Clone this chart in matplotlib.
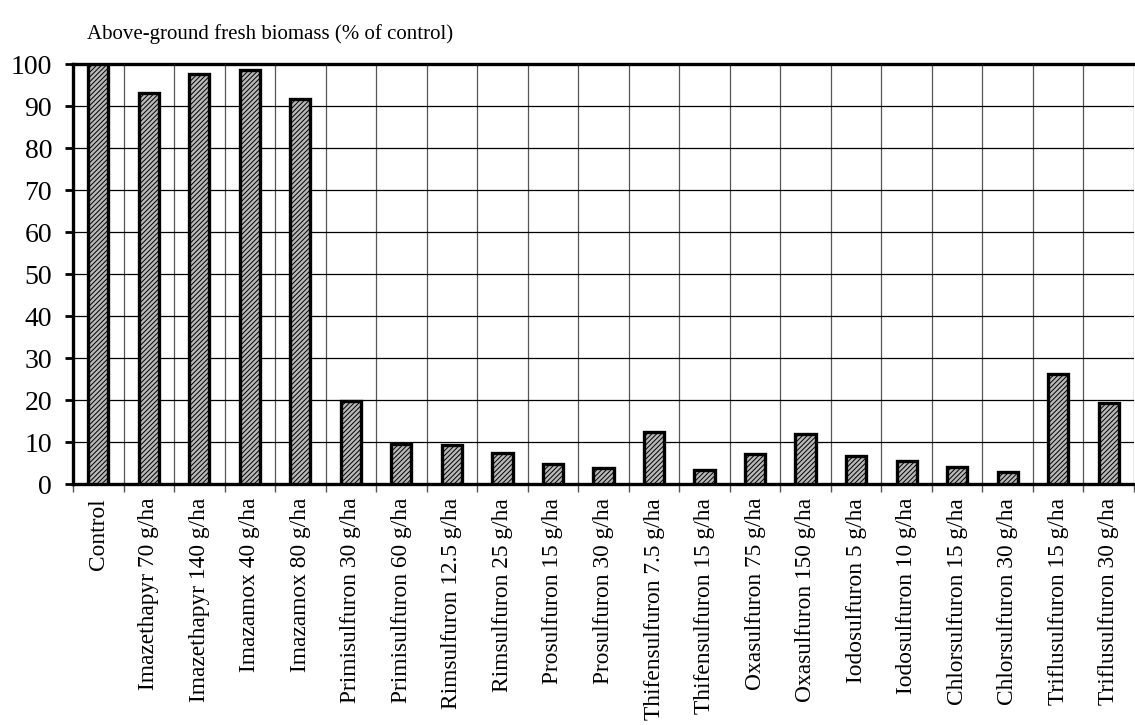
import matplotlib
matplotlib.use("Agg")
import matplotlib.pyplot as plt
import numpy as np

categories = [
    "Control", "Imazethapyr 70 g/ha", "Imazethapyr 140 g/ha", "Imazamox 40 g/ha",
    "Imazamox 80 g/ha", "Primisulfuron 30 g/ha", "Primisulfuron 60 g/ha",
    "Rimsulfuron 12.5 g/ha", "Rimsulfuron 25 g/ha", "Prosulfuron 15 g/ha",
    "Prosulfuron 30 g/ha", "Thifensulfuron 7.5 g/ha", "Thifensulfuron 15 g/ha",
    "Oxasulfuron 75 g/ha", "Oxasulfuron 150 g/ha", "Iodosulfuron 5 g/ha",
    "Iodosulfuron 10 g/ha", "Chlorsulfuron 15 g/ha", "Chlorsulfuron 30 g/ha",
    "Triflusulfuron 15 g/ha", "Triflusulfuron 30 g/ha",
]
values = [100, 93.1, 97.7, 98.6, 91.6, 19.8, 9.5, 9.3, 7.5, 4.8, 3.8,
          12.5, 3.3, 7.1, 11.9, 6.7, 5.5, 4.0, 2.9, 26.2, 19.3]
yticks = list(range(0, 101, 10))

plt.rcParams["font.family"] = ["Liberation Serif", "DejaVu Serif"]
plt.rcParams["hatch.linewidth"] = 0.7
plt.rcParams["hatch.color"] = "#202020"

fig = plt.figure(figsize=(11.35, 7.25), dpi=100)
ax = fig.add_axes([0.0643, 0.3324, 0.9348, 0.5793])

x = np.arange(len(categories))
ax.bar(x, values, width=0.4, color="#b8b8b8", edgecolor="black",
       linewidth=2.4, hatch="///////", zorder=3)

ax.set_xlim(-0.5, len(categories) - 0.5)
ax.set_ylim(0, 100)
ax.set_yticks(yticks)
ax.set_yticklabels([str(t) for t in yticks], fontsize=20)
ax.tick_params(axis="y", direction="out", length=6, width=2, pad=9)

ax.set_xticks(x)
ax.set_xticklabels(categories, rotation=90, fontsize=16.8)
ax.tick_params(axis="x", which="major", length=0, pad=10)
ax.set_xticks(np.arange(-0.5, len(categories), 1), minor=True)
ax.tick_params(axis="x", which="minor", length=6, width=1, color="#555555")

ax.grid(axis="y", color="black", linewidth=0.9, zorder=0)
ax.grid(axis="x", which="minor", color="#555555", linewidth=0.9, zorder=0)

for side in ["left", "bottom", "top"]:
    ax.spines[side].set_linewidth(2.4)
ax.spines["right"].set_visible(False)

fig.text(0.077, 0.953, "Above-ground fresh biomass (% of control)", fontsize=15,
         va="center", ha="left")

fig.savefig("out.png", dpi=100)
